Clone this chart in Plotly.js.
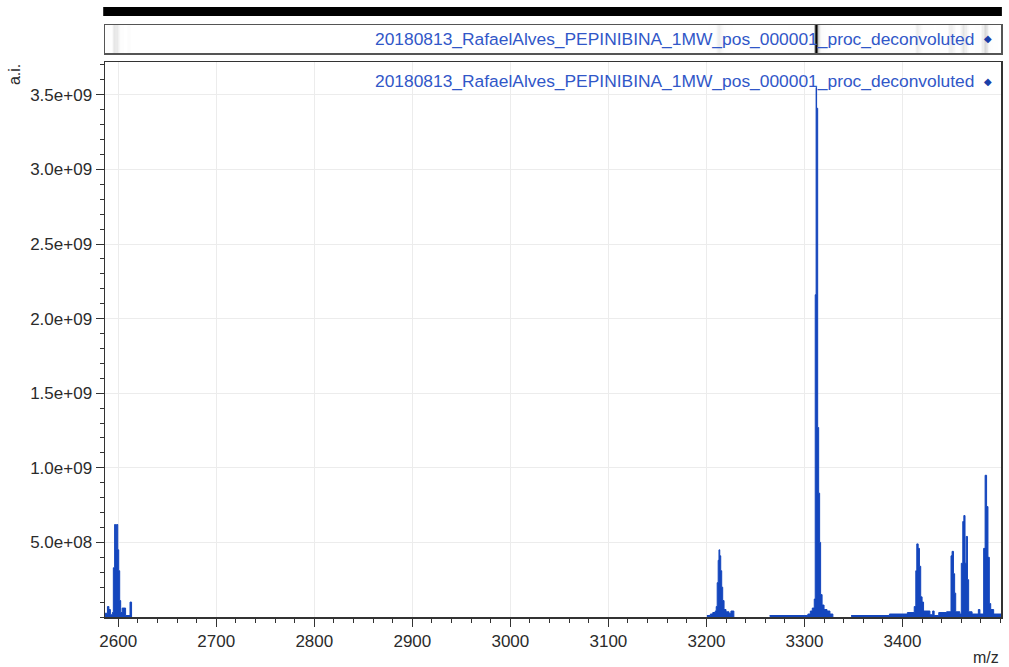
<!DOCTYPE html>
<html>
<head>
<meta charset="utf-8">
<script src="https://cdn.plot.ly/plotly-3.0.1.min.js"></script>
<style>
  html, body { margin: 0; padding: 0; background: #ffffff; }
  #chart { width: 1009px; height: 667px; }
</style>
</head>
<body>
<div id="chart"></div>
<script>
// ---- Data ----
const seriesName = "20180813_RafaelAlves_PEPINIBINA_1MW_pos_000001_proc_deconvoluted";

// cluster near m/z 2600
const mzA  = [2586.5, 2587.5, 2589, 2590.5, 2592, 2594, 2595, 2596.3, 2597.3, 2598.3, 2599.5, 2600.5, 2601.5, 2602.5, 2604, 2607.5, 2612, 2613.6];
const intA = [2.5e7, 2.5e7, 7e7, 5e7, 1.5e7, 3e7, 3.3e8, 6.2e8, 4.5e8, 6.2e8, 4.5e8, 3.1e8, 1.1e8, 3e7, 6e7, 1e7, 1e8, 0];

// cluster near m/z 3213
const mzB  = [3200.5, 3204, 3206.5, 3209, 3210, 3211, 3212, 3212.8, 3213.6, 3214.6, 3215.6, 3216.6, 3218, 3220, 3223, 3225, 3228];
const intB = [1e7, 2e7, 3e7, 4e7, 7e7, 2.3e8, 3.8e8, 4.5e8, 4.1e8, 3.1e8, 2e8, 1.1e8, 5e7, 3.5e7, 2.5e7, 4e7, 0];

// main peak near m/z 3312 (with preceding baseline)
const mzC  = [3264.5, 3303.5, 3306, 3308, 3310, 3311, 3311.9, 3312.4, 3313.5, 3314.5, 3315.5, 3316.5, 3318, 3320, 3323, 3326, 3329];
const intC = [1e7, 2e7, 4e7, 6e7, 1.2e8, 2.16e9, 3.55e9, 3.41e9, 1.27e9, 8.3e8, 5e8, 1.5e8, 8e7, 5e7, 4e7, 2e7, 0];

// clusters 3400 - 3500
const mzD  = [3347.6, 3386.7, 3405, 3412, 3413.6, 3414.6, 3416, 3417.3, 3418.6, 3420, 3421.5, 3428, 3430.8, 3432.3, 3437, 3445,
              3449.5, 3450.6, 3452, 3453.2, 3454.3, 3458.5, 3460, 3461.5, 3462.6, 3463.8, 3465, 3466.3, 3467.5, 3471, 3477.4, 3479,
              3482.8, 3484.3, 3485.8, 3487.2, 3488.6, 3490, 3493, 3500.5];
const intD = [1e7, 2e7, 3e7, 7e7, 3.1e8, 4.9e8, 4.6e8, 3.4e8, 1.35e8, 1e8, 4e7, 1.5e7, 4e7, 1e7, 3e7, 3.5e7,
              4.1e8, 4.4e8, 2.9e8, 1.6e8, 3.5e7, 2e7, 3.6e8, 6.4e8, 6.8e8, 3.6e8, 5.4e8, 2.5e8, 3.5e7, 2e7, 5e7, 2e7,
              4.6e8, 9.5e8, 7.4e8, 4e8, 9e7, 5e7, 2e7, 0];

const clustersMz  = [mzA, mzB, mzC, mzD];
const clustersInt = [intA, intB, intC, intD];
const mzAll = [].concat(mzA, mzB, mzC, mzD);
const intAll = [].concat(intA, intB, intC, intD);

const xTickVals = [2600, 2700, 2800, 2900, 3000, 3100, 3200, 3300, 3400];
const yTickVals = [5e8, 1e9, 1.5e9, 2e9, 2.5e9, 3e9, 3.5e9];
const yTickText = ["5.0e+08", "1.0e+09", "1.5e+09", "2.0e+09", "2.5e+09", "3.0e+09", "3.5e+09"];

// ---- Styling ----
const FONT = "Liberation Sans, Arial, sans-serif";
const BLUE = "#1446bd";
const TEXTBLUE = "#3157c8";
const XR = [2586.5, 3500.5];

const traces = clustersMz.map((xs, i) => ({
  type: "scatter", mode: "lines", x: xs, y: clustersInt[i],
  line: { color: BLUE, width: 1, shape: "hv" },
  fill: "tozeroy", fillcolor: BLUE,
  xaxis: "x", yaxis: "y", showlegend: false, hoverinfo: "skip"
}));

traces.push({
  type: "heatmap", x: mzAll, y: [0], z: [intAll],
  zmin: 0, zmax: 3.55e9, showscale: false, hoverinfo: "skip",
  colorscale: [[0, "#ffffff"], [0.1, "#f3f3f3"], [0.2, "#e2e2e2"], [0.3, "#cacaca"], [0.6, "#707070"], [1, "#000000"]],
  xaxis: "x2", yaxis: "y2"
});

const layout = {
  width: 1009, height: 667,
  margin: { l: 105, r: 8, t: 25, b: 50 },
  paper_bgcolor: "#ffffff", plot_bgcolor: "#ffffff",
  font: { family: FONT, size: 17, color: "#2b2b2b" },
  showlegend: false,
  hovermode: false,
  xaxis: {
    domain: [0, 1], range: XR, anchor: "y", layer: "above traces",
    tickvals: xTickVals, ticks: "outside", ticklen: 8, tickwidth: 1, tickcolor: "#333",
    showline: true, linecolor: "#333", linewidth: 1.5, mirror: true,
    showgrid: true, gridcolor: "#ececec", gridwidth: 1, zeroline: false,
    tickfont: { family: FONT, size: 17, color: "#2b2b2b" },
    ticklabelstandoff: 0,
    minor: { dtick: 20, tick0: 2600, ticks: "outside", ticklen: 4, tickcolor: "#333", showgrid: false }
  },
  yaxis: {
    domain: [0, 0.9375], range: [0, 3.72e9], anchor: "x", layer: "above traces",
    tickvals: yTickVals, ticktext: yTickText, ticks: "outside", ticklen: 8, tickwidth: 1, tickcolor: "#333",
    showline: true, linecolor: "#333", linewidth: 1.5, mirror: true,
    showgrid: true, gridcolor: "#ececec", gridwidth: 1, zeroline: false,
    tickfont: { family: FONT, size: 17, color: "#2b2b2b" },
    minor: { dtick: 1e8, tick0: 0, ticks: "outside", ticklen: 4, tickcolor: "#333", showgrid: false }
  },
  xaxis2: {
    domain: [0, 1], range: XR, anchor: "y2",
    showticklabels: false, ticks: "", showgrid: false, zeroline: false,
    showline: true, linecolor: "#555", linewidth: 1.5, mirror: true
  },
  yaxis2: {
    domain: [0.9527, 1], range: [-0.5, 0.5], anchor: "x2",
    showticklabels: false, ticks: "", showgrid: false, zeroline: false,
    showline: true, linecolor: "#555", linewidth: 1.5, mirror: true
  },
  shapes: [
    { type: "rect", xref: "paper", yref: "paper", x0: -0.002, x1: 1.001, y0: 1.0152, y1: 1.0304,
      fillcolor: "#000000", line: { width: 0 }, layer: "above" }
  ],
  annotations: [
    { xref: "paper", yref: "paper", x: 0.972, y: 0.9054, xanchor: "right", yanchor: "middle",
      text: seriesName, showarrow: false, font: { family: FONT, size: 17.4, color: TEXTBLUE } },
    { xref: "paper", yref: "paper", x: 0.9855, y: 0.9054, xanchor: "center", yanchor: "middle",
      text: "◆", showarrow: false, font: { family: "DejaVu Sans", size: 10, color: "#1a3fa8" } },
    { xref: "paper", yref: "paper", x: 0.972, y: 0.9764, xanchor: "right", yanchor: "middle",
      text: seriesName, showarrow: false, font: { family: FONT, size: 17.4, color: TEXTBLUE } },
    { xref: "paper", yref: "paper", x: 0.9855, y: 0.9764, xanchor: "center", yanchor: "middle",
      text: "◆", showarrow: false, font: { family: "DejaVu Sans", size: 10, color: "#1a3fa8" } },
    { xref: "paper", yref: "paper", x: 0, xshift: -91, y: 0.9155, xanchor: "center", yanchor: "middle",
      text: "a.i.", textangle: -90, showarrow: false, font: { family: FONT, size: 16, color: "#2b2b2b" } },
    { xref: "paper", yref: "paper", x: 1, y: -0.0676, xanchor: "right", yanchor: "middle",
      text: "m/z", showarrow: false, font: { family: FONT, size: 16, color: "#2b2b2b" } }
  ]
};

Plotly.newPlot("chart", traces, layout, { displayModeBar: false, staticPlot: true });
</script>
</body>
</html>
